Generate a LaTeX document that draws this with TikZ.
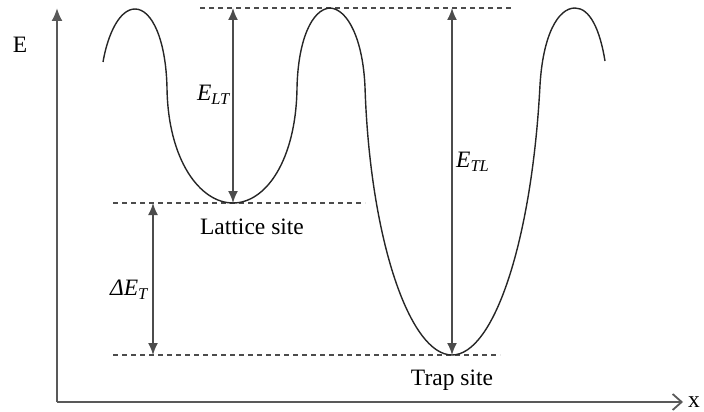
\documentclass[tikz,border=0pt]{standalone}
\usepackage{fontspec}
\setmainfont{Liberation Serif}
\usetikzlibrary{arrows.meta,positioning}

\newcommand{\Esub}[2]{\textit{#1}\textsubscript{\textit{#2}}}

\begin{document}
\begin{tikzpicture}[x=1pt, y=-1pt,
  every node/.style={font=\fontsize{23.5}{27}\selectfont, inner sep=2pt},
  axis/.style={draw=black!65, line width=2pt},
  level/.style={draw=black!70, dashed, dash pattern=on 5pt off 4pt, line width=1.2pt},
  gap/.style={draw=black!70, line width=1.7pt, {Latex[length=12pt,width=10pt]}-{Latex[length=12pt,width=10pt]}},
  well/.style={draw=black!85, line width=1.4pt}]
\useasboundingbox (0,0) rectangle (704,412);
% axes
\coordinate (origin) at (57,402);
\coordinate (ytop) at (57,8);
\coordinate (xend) at (683,402);
\draw[axis, -{Latex[length=13pt,width=11pt]}] (origin) -- (ytop);
\draw[axis, -{Straight Barb[length=9pt,width=16pt,line width=1.8pt]}] (origin) -- (xend);
\node (elab) at (20,45) {E};
\node[right=3pt of xend] (xlab) {x};
% energy levels
\coordinate (peak) at (330,8);
\coordinate (lat) at (233,203);
\coordinate (trap) at (452,355);
\draw[level] (200,8) -- (513,8);
\draw[level] (113,203) -- (365,203);
\draw[level] (113,355) -- (500,355);
% potential
\draw[well] (103,62) .. controls (108,33) and (120,9) .. (135,9)
  .. controls (152,9) and (166,40) .. (167,88)
  .. controls (168,160) and (200,203) .. (lat)
  .. controls (266,203) and (296,160) .. (297,88)
  .. controls (298,40) and (312,9) .. (peak)
  .. controls (348,9) and (363,40) .. (365,87)
  .. controls (370,240) and (410,355) .. (trap)
  .. controls (494,355) and (532,240) .. (540,85)
  .. controls (543,35) and (558,8) .. (575,8)
  .. controls (590,8) and (600,30) .. (605,61);
% gaps
\coordinate (lattop) at (233,8);
\coordinate (traptop) at (452,8);
\coordinate (dtop) at (153,203);
\coordinate (dbot) at (153,355);
\draw[gap] (lattop) -- (lat);
\draw[gap] (traptop) -- (trap);
\draw[gap] (dtop) -- (dbot);
\node[left=0pt] (elt) at (233,95) {\Esub{E}{LT}};
\node[right=2pt] (etl) at (452,162) {\Esub{E}{TL}};
\node[left=2pt] (det) at (153,290) {\Esub{ΔE}{T}};
\node (latlab) at (252,227) {Lattice site};
\node (traplab) at (452,380) {Trap site};
\end{tikzpicture}
\end{document}
